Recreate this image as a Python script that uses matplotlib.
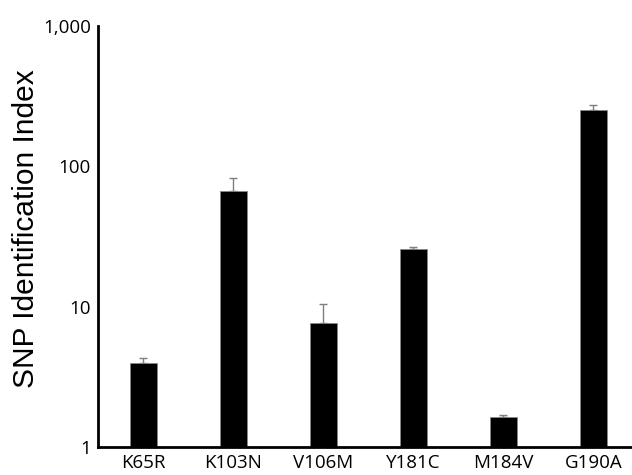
import matplotlib
matplotlib.use("Agg")
import matplotlib.pyplot as plt
import numpy as np
from matplotlib.ticker import FixedLocator, FixedFormatter, NullLocator

# SNP identification index per mutation (mean and upper error)
mutations = ['K65R', 'K103N', 'V106M', 'Y181C', 'M184V', 'G190A']
index_mean = [3.95, 67.0, 7.6, 25.8, 1.64, 252.0]
index_err = [0.35, 15.0, 2.8, 0.7, 0.05, 20.0]

y_ticks = [1, 10, 100, 1000]
y_tick_labels = ['1', '10', '100', '1,000']

fig = plt.figure(figsize=(6.32, 4.75), dpi=100)
ax = fig.add_axes([0.155, 0.059, 0.845, 0.886])

x = np.arange(len(mutations))
ax.bar(x, index_mean, width=0.3, color='black', edgecolor='#888888', linewidth=0.6,
       zorder=2)
ax.errorbar(x, index_mean, yerr=[np.zeros(len(index_err)), index_err], fmt='none',
            ecolor='#7f7f7f', elinewidth=1.0, capsize=3, capthick=1.0, zorder=1)

ax.set_yscale('log')
ax.set_ylim(1, 1000)
ax.set_xlim(-0.506, 5.43)
ax.yaxis.set_major_locator(FixedLocator(y_ticks))
ax.yaxis.set_major_formatter(FixedFormatter(y_tick_labels))
ax.yaxis.set_minor_locator(NullLocator())
ax.set_xticks(x)
ax.set_xticklabels(mutations)
ax.tick_params(axis='both', length=0, labelsize=13.5, pad=5)
for lbl in ax.get_xticklabels() + ax.get_yticklabels():
    lbl.set_fontfamily('Open Sans')

for side in ['top', 'right']:
    ax.spines[side].set_visible(False)
for side in ['left', 'bottom']:
    ax.spines[side].set_linewidth(2)

ax.set_ylabel('SNP Identification Index', fontsize=21.5, fontfamily='Liberation Sans')
ax.yaxis.set_label_coords(-0.108, 0.52)

fig.savefig('out.png', dpi=100)
